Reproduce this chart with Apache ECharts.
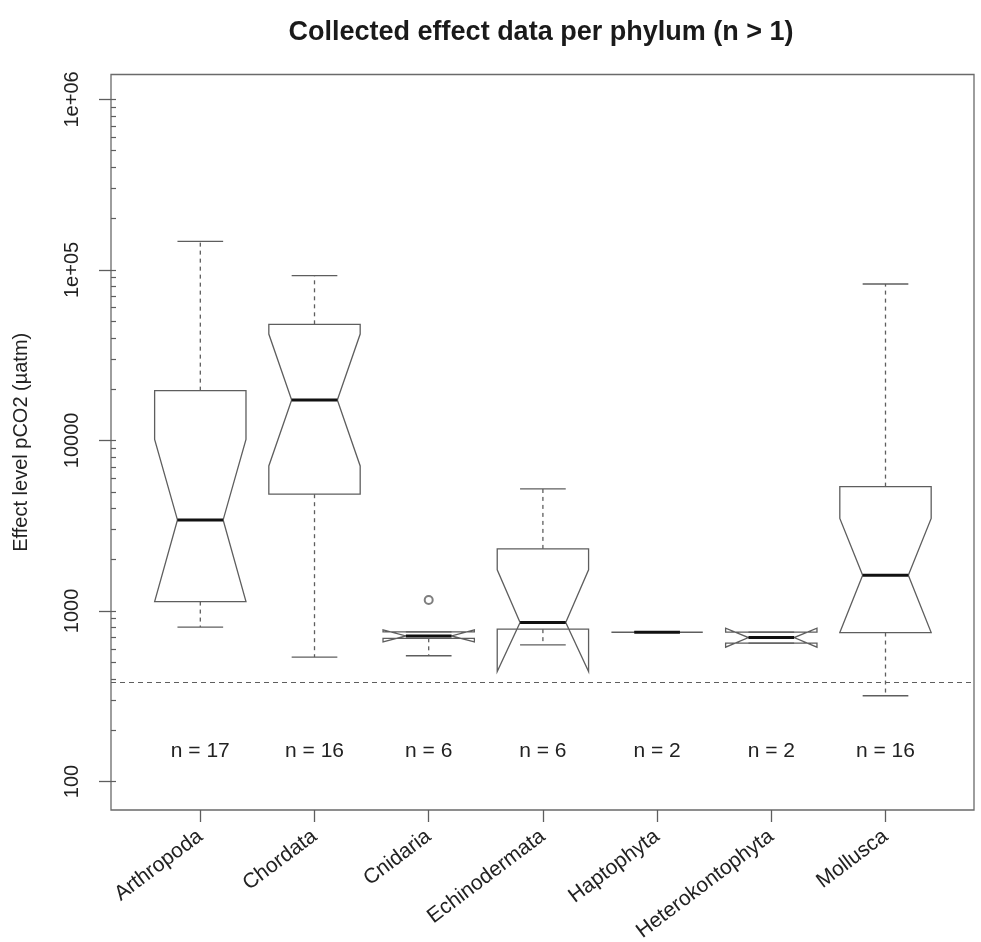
<!DOCTYPE html>
<html>
<head>
<meta charset="utf-8">
<title>Collected effect data per phylum</title>
<script src="https://cdn.jsdelivr.net/npm/echarts@6/dist/echarts.min.js"></script>
<style>
  html, body { margin: 0; padding: 0; background: #ffffff; }
  #chart { width: 981px; height: 942px; }
</style>
</head>
<body>
<div id="chart"></div>
<script>
// Effect-level pCO2 (µatm) summaries per phylum
const phyla = ['Arthropoda', 'Chordata', 'Cnidaria', 'Echinodermata', 'Haptophyta', 'Heterokontophyta', 'Mollusca'];
const sampleSizes = [17, 16, 6, 6, 2, 2, 16];
const whiskerLow  = [804,    536,   546,  633,  750, 648, 318];
const quartile1   = [1135,   4838,  691,  782,  750, 648, 747];
const notchLow    = [1135,   7088,  659,  441,  750, 613, 747];
const medians     = [3420,   17280, 714,  855,  750, 698, 1621];
const notchHigh   = [10140,  42070, 774,  1742, 750, 793, 3490];
const quartile3   = [19590,  47970, 754,  2311, 750, 751, 5360];
const whiskerHigh = [147000, 92500, 754,  5196, 750, 751, 82700];
const outlierGroups = [3];
const outlierValues = [1160];
const referenceLevel = 380;
const countLabelLevel = 150;
const yTickValues = [100, 1000, 10000, 100000, 1000000];
const yTickLabels = ['100', '1000', '10000', '1e+05', '1e+06'];
const yAxisBottom = 68;
const yAxisTop = 1.4e6;

const FONT = '"Liberation Sans", Arial, Helvetica, sans-serif';
const LINE = '#5e5e5e';
const BOX_HALF = 0.4;     // box half width, in group units
const NOTCH_HALF = 0.2;   // median / notch waist half width
const STAPLE_HALF = 0.2;  // whisker cap half width

const lg = Math.log10;

// minor ticks at 1..9 x 10^k inside each decade
const minorTicks = [];
for (let e = 2; e < 6; e++) {
  for (let k = 1; k < 10; k++) minorTicks.push(lg(k * Math.pow(10, e)));
}
minorTicks.push(6);

const boxData = phyla.map((name, i) => [
  i + 1,
  lg(whiskerLow[i]), lg(quartile1[i]), lg(notchLow[i]), lg(medians[i]),
  lg(notchHigh[i]), lg(quartile3[i]), lg(whiskerHigh[i])
]);
const outlierData = outlierGroups.map((g, i) => [g, lg(outlierValues[i])]);
const countData = sampleSizes.map((n, i) => [i + 1, lg(countLabelLevel), n]);

function renderBox(params, api) {
  const x = api.value(0);
  const lo = api.value(1), q1 = api.value(2), nlo = api.value(3), med = api.value(4);
  const nhi = api.value(5), q3 = api.value(6), hi = api.value(7);
  const p = (dx, v) => api.coord([x + dx, v]);
  const outline = [
    p(-BOX_HALF, q1), p(-BOX_HALF, nlo), p(-NOTCH_HALF, med), p(-BOX_HALF, nhi), p(-BOX_HALF, q3),
    p(BOX_HALF, q3), p(BOX_HALF, nhi), p(NOTCH_HALF, med), p(BOX_HALF, nlo), p(BOX_HALF, q1)
  ];
  const seg = (a, b, style) => ({
    type: 'line',
    shape: { x1: a[0], y1: a[1], x2: b[0], y2: b[1] },
    style: style
  });
  const dashed = { stroke: LINE, lineWidth: 1.3, lineDash: [4, 4] };
  const solid = { stroke: LINE, lineWidth: 1.3 };
  return {
    type: 'group',
    children: [
      seg(p(0, q3), p(0, hi), dashed),
      seg(p(0, q1), p(0, lo), dashed),
      seg(p(-STAPLE_HALF, hi), p(STAPLE_HALF, hi), solid),
      seg(p(-STAPLE_HALF, lo), p(STAPLE_HALF, lo), solid),
      {
        type: 'polygon',
        shape: { points: outline },
        style: { fill: 'none', stroke: LINE, lineWidth: 1.3 }
      },
      seg(p(-NOTCH_HALF, med), p(NOTCH_HALF, med), { stroke: '#111111', lineWidth: 3 })
    ]
  };
}

function renderCount(params, api) {
  const pt = api.coord([api.value(0), api.value(1)]);
  return {
    type: 'text',
    x: pt[0],
    y: pt[1],
    style: {
      text: 'n = ' + api.value(2),
      fontFamily: FONT,
      fontSize: 21,
      fill: '#222222',
      textAlign: 'center',
      textVerticalAlign: 'middle'
    }
  };
}

const chart = echarts.init(document.getElementById('chart'), null, { renderer: 'canvas' });
chart.setOption({
  animation: false,
  backgroundColor: '#ffffff',
  textStyle: { fontFamily: FONT },
  title: {
    text: 'Collected effect data per phylum (n > 1)',
    left: 536,
    textAlign: 'center',
    top: 14,
    textStyle: { fontFamily: FONT, fontWeight: 'bold', fontSize: 27, color: '#1a1a1a' }
  },
  grid: {
    left: 111, right: 7, top: 74.5, bottom: 132,
    containLabel: false,
    outerBoundsMode: 'none',
    show: true, borderColor: '#6a6a6a', borderWidth: 1.3, backgroundColor: 'transparent'
  },
  xAxis: {
    type: 'value',
    min: 0.218,
    max: 7.775,
    splitLine: { show: false },
    axisLine: { show: false },
    axisTick: {
      show: true, customValues: [1, 2, 3, 4, 5, 6, 7], length: 12,
      lineStyle: { color: LINE, width: 1.3 }
    },
    axisLabel: {
      customValues: [1, 2, 3, 4, 5, 6, 7],
      formatter: v => phyla[Math.round(v) - 1],
      rotate: 37,
      margin: 24,
      fontSize: 21,
      color: '#222222',
      fontFamily: FONT
    }
  },
  yAxis: [
    {
      type: 'value',
      min: lg(yAxisBottom),
      max: lg(yAxisTop),
      name: 'Effect level pCO2 (µatm)',
      nameLocation: 'middle',
      nameRotate: 90,
      nameGap: 80,
      nameTextStyle: { fontFamily: FONT, fontSize: 20, color: '#222222' },
      splitLine: { show: false },
      axisLine: { show: false },
      axisTick: {
        show: true, customValues: yTickValues.map(lg), length: 12,
        lineStyle: { color: LINE, width: 1.3 }
      },
      axisLabel: {
        customValues: yTickValues.map(lg),
        formatter: v => {
          const i = yTickValues.findIndex(t => Math.abs(lg(t) - v) < 1e-6);
          return i >= 0 ? yTickLabels[i] : '';
        },
        rotate: 90,
        margin: 29,
        fontSize: 20,
        color: '#222222',
        fontFamily: FONT
      }
    },
    {
      type: 'value',
      min: lg(yAxisBottom),
      max: lg(yAxisTop),
      position: 'left',
      splitLine: { show: false },
      axisLine: { show: false },
      axisLabel: { show: false },
      axisTick: {
        show: true, inside: true, customValues: minorTicks, length: 5,
        lineStyle: { color: LINE, width: 1.2 }
      }
    }
  ],
  series: [
    {
      type: 'custom',
      name: 'boxes',
      renderItem: renderBox,
      data: boxData,
      encode: { x: 0, y: [1, 2, 3, 4, 5, 6, 7] },
      silent: true,
      markLine: {
        silent: true,
        symbol: 'none',
        label: { show: false },
        lineStyle: { color: LINE, width: 1.2, type: [5, 4] },
        data: [{ yAxis: lg(referenceLevel) }]
      }
    },
    {
      type: 'scatter',
      name: 'outliers',
      data: outlierData,
      symbol: 'emptyCircle',
      symbolSize: 8,
      itemStyle: { color: LINE, borderColor: LINE, borderWidth: 1.2 },
      silent: true
    },
    {
      type: 'custom',
      name: 'counts',
      renderItem: renderCount,
      data: countData,
      encode: { x: 0, y: 1 },
      silent: true
    }
  ]
});
</script>
</body>
</html>
